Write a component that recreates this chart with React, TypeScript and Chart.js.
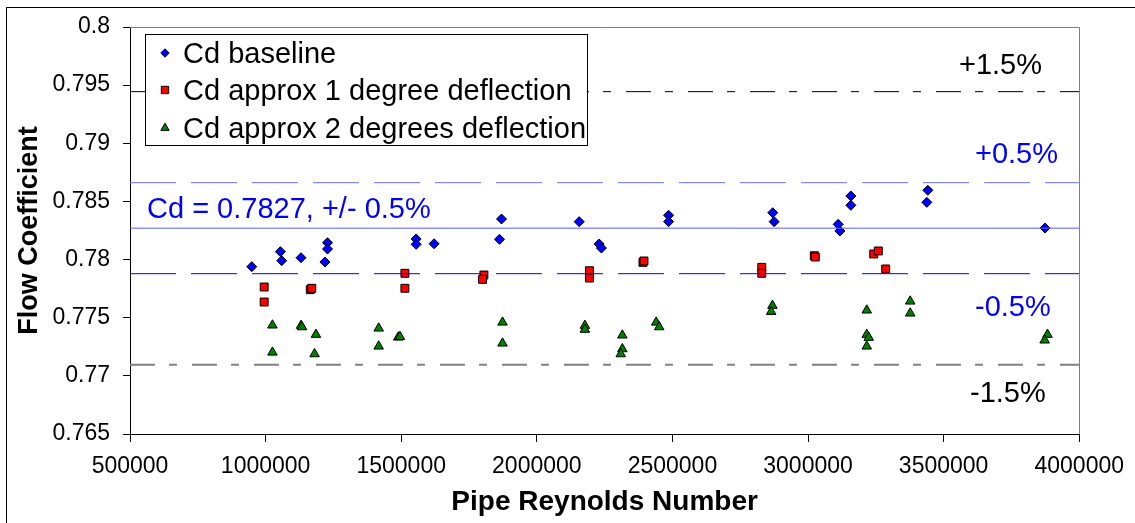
import React, { useEffect, useRef } from 'react';
import { Chart, registerables } from 'chart.js';

Chart.register(...registerables);

const FONT = '"Liberation Sans", Arial, sans-serif';

const xTicks = [500000, 1000000, 1500000, 2000000, 2500000, 3000000, 3500000, 4000000];
const xTickLabels = ['500000', '1000000', '1500000', '2000000', '2500000', '3000000', '3500000', '4000000'];
const yTicks = [0.765, 0.77, 0.775, 0.78, 0.785, 0.79, 0.795, 0.8];
const yTickLabels = ['0.765', '0.77', '0.775', '0.78', '0.785', '0.79', '0.795', '0.8'];

const seriesNames = ['Cd baseline', 'Cd approx 1 degree deflection', 'Cd approx 2 degrees deflection'];

const baselineRe = [949000, 1054600, 1059300, 1130600, 1228300, 1228300, 1218700, 1555100, 1555100, 1621200,
  1869900, 1862500, 2156300, 2229800, 2238200, 2485800, 2485800, 2869900, 2875100, 3111200,
  3117500, 3157900, 3157900, 3441800, 3438100, 3874000];
const baselineCd = [0.77939, 0.78068, 0.7799, 0.78016, 0.78145, 0.78091, 0.77979, 0.78177, 0.78131, 0.78136,
  0.78349, 0.78174, 0.78326, 0.78134, 0.78099, 0.78381, 0.78326, 0.78403, 0.78326, 0.78303,
  0.78246, 0.78547, 0.78467, 0.78596, 0.78492, 0.78271];

const deg1Re = [994700, 994700, 1164700, 1170200, 1513600, 1513600, 1804900, 1800100, 2194200, 2194200,
  2391400, 2395100, 2829500, 2829500, 3023100, 3026700, 3242300, 3259200, 3286400];
const deg1Cd = [0.77764, 0.77635, 0.77741, 0.77753, 0.77882, 0.77753, 0.77867, 0.7783, 0.77904, 0.77841,
  0.77976, 0.77988, 0.77933, 0.77882, 0.78033, 0.78022, 0.78048, 0.78074, 0.77919];

const deg2Re = [1025200, 1025200, 1130600, 1134300, 1185700, 1180500, 1417000, 1417000, 1489000, 1495300,
  1873600, 1873600, 2177300, 2177300, 2315400, 2315400, 2309500, 2440200, 2451300, 2868800,
  2864100, 3216600, 3216600, 3224000, 3216600, 3376700, 3376700, 3882900, 3872500];
const deg2Cd = [0.77435, 0.77202, 0.77432, 0.7742, 0.77355, 0.77188, 0.77409, 0.77254, 0.77331, 0.77337,
  0.7746, 0.7728, 0.77432, 0.77398, 0.77349, 0.77231, 0.77188, 0.7746, 0.7742, 0.77604,
  0.77552, 0.77564, 0.77355, 0.77329, 0.77254, 0.77641, 0.77538, 0.77355, 0.77306];

const cdMean = 0.7827;
const bandPercents = [1.5, 0.5, -0.5, -1.5];
const bandLabels = ['+1.5%', '+0.5%', '-0.5%', '-1.5%'];
const meanLabel = 'Cd = 0.7827, +/- 0.5%';

function drawMarker(ctx: CanvasRenderingContext2D, style: string, x: number, y: number, r: number, fill: string) {
  ctx.beginPath();
  if (style === 'rectRot') {
    ctx.moveTo(x - r, y);
    ctx.lineTo(x, y - r);
    ctx.lineTo(x + r, y);
    ctx.lineTo(x, y + r);
  } else if (style === 'rect') {
    const s = Math.SQRT1_2 * r;
    ctx.rect(x - s, y - s, 2 * s, 2 * s);
  } else {
    const w = r * Math.sin(Math.PI * 2 / 3);
    ctx.moveTo(x, y - r);
    ctx.lineTo(x + w, y + r / 2);
    ctx.lineTo(x - w, y + r / 2);
  }
  ctx.closePath();
  ctx.fillStyle = fill;
  ctx.fill();
  ctx.strokeStyle = '#000';
  ctx.lineWidth = 1;
  ctx.stroke();
}

const framePlugin = {
  id: 'frame',
  beforeDraw(chart: any) {
    const ctx = chart.ctx;
    ctx.save();
    ctx.fillStyle = '#fff';
    ctx.fillRect(0, 0, chart.width, chart.height);
    ctx.strokeStyle = '#000';
    ctx.lineWidth = 1;
    ctx.strokeRect(6.5, 7.5, chart.width + 20, chart.height + 20);
    ctx.restore();
  },
  beforeDatasetsDraw(chart: any) {
    const { ctx, chartArea: a } = chart;
    ctx.save();
    ctx.strokeStyle = '#808080';
    ctx.lineWidth = 1;
    ctx.beginPath();
    ctx.moveTo(a.left, Math.round(a.top) + 0.5);
    ctx.lineTo(Math.round(a.right) + 0.5, Math.round(a.top) + 0.5);
    ctx.lineTo(Math.round(a.right) + 0.5, a.bottom);
    ctx.stroke();
    ctx.restore();
  },
  afterDatasetsDraw(chart: any) {
    const ctx = chart.ctx;
    ctx.save();
    ctx.font = `29px ${FONT}`;
    ctx.textBaseline = 'alphabetic';
    ctx.textAlign = 'left';
    ctx.fillStyle = '#000';
    ctx.fillText(bandLabels[0], 959, 74);
    ctx.fillStyle = '#0000FF';
    ctx.fillText(bandLabels[1], 975, 163);
    ctx.fillText(bandLabels[2], 975, 316);
    ctx.fillStyle = '#000';
    ctx.fillText(bandLabels[3], 970, 402);
    ctx.fillStyle = '#0000FF';
    ctx.fillText(meanLabel, 147, 218);

    // legend
    ctx.fillStyle = '#fff';
    ctx.fillRect(145.5, 34.5, 442, 111);
    ctx.strokeStyle = '#000';
    ctx.lineWidth = 1;
    ctx.strokeRect(145.5, 34.5, 442, 111);
    const rows = [53, 90, 128];
    const styles = ['rectRot', 'rect', 'triangle'];
    const radii = [4.2, 5.2, 4.8];
    const fills = ['#0000FF', '#FF0000', '#008000'];
    rows.forEach((ry, i) => {
      drawMarker(ctx, styles[i], 165, ry, radii[i], fills[i]);
      ctx.fillStyle = '#000';
      ctx.font = `29px ${FONT}`;
      ctx.fillText(seriesNames[i], 183, ry + 10);
    });
    ctx.restore();
  },
};

export default function App() {
  const ref = useRef<HTMLCanvasElement | null>(null);

  useEffect(() => {
    if (!ref.current) return;
    const lineColors = ['#000000', '#6F6FFF', '#0000FF', '#808080'];
    const lineDashes = [[25, 14, 8, 15], [46, 15], [46, 15], [25, 14, 8, 15]];
    const lineWidths = [1, 1, 1, 2];
    const bandSets = bandPercents.map((p, i) => {
      const level = cdMean * (1 + p / 100);
      return {
        label: bandLabels[i],
        data: [{ x: xTicks[0], y: level }, { x: xTicks[xTicks.length - 1], y: level }],
        showLine: true,
        borderColor: lineColors[i],
        borderWidth: lineWidths[i],
        borderDash: lineDashes[i],
        pointRadius: 0,
        order: 0,
      };
    });
    const meanSet = {
      label: meanLabel,
      data: [{ x: xTicks[0], y: cdMean }, { x: xTicks[xTicks.length - 1], y: cdMean }],
      showLine: true,
      borderColor: '#5A5AFF',
      borderWidth: 1,
      pointRadius: 0,
      order: 0,
    };
    const mk = (re: number[], cd: number[]) => re.map((x, i) => ({ x, y: cd[i] }));
    const chart = new Chart(ref.current, {
      type: 'scatter',
      data: {
        datasets: [
          ...bandSets,
          meanSet,
          {
            label: seriesNames[0],
            data: mk(baselineRe, baselineCd),
            pointStyle: 'rectRot',
            pointRadius: 5,
            backgroundColor: '#0000FF',
            borderColor: '#000',
            borderWidth: 1,
            order: 1,
          },
          {
            label: seriesNames[1],
            data: mk(deg1Re, deg1Cd),
            pointStyle: 'rect',
            pointRadius: 5.6,
            backgroundColor: '#FF0000',
            borderColor: '#000',
            borderWidth: 1,
            order: 1,
          },
          {
            label: seriesNames[2],
            data: mk(deg2Re, deg2Cd),
            pointStyle: 'triangle',
            pointRadius: 5.5,
            backgroundColor: '#008000',
            borderColor: '#000',
            borderWidth: 1,
            order: 1,
          },
        ] as any,
      },
      options: {
        responsive: false,
        animation: false,
        layout: { padding: { left: 0, top: 27, right: 52, bottom: 0 } },
        plugins: { legend: { display: false }, tooltip: { enabled: false } },
        scales: {
          x: {
            type: 'linear',
            min: xTicks[0],
            max: xTicks[xTicks.length - 1],
            afterBuildTicks: (s: any) => { s.ticks = xTicks.map((v) => ({ value: v })); },
            afterFit: (s: any) => { s.height = 89; },
            ticks: {
              callback: (_v: any, i: number) => xTickLabels[i],
              font: { family: FONT, size: 23 },
              color: '#000',
              padding: 11,
              maxRotation: 0,
              autoSkip: false,
            },
            grid: { drawOnChartArea: false, drawTicks: true, tickLength: 8, color: '#000' },
            border: { color: '#000', width: 1 },
            title: {
              display: true,
              text: 'Pipe Reynolds Number',
              font: { family: FONT, size: 28, weight: 'bold' },
              color: '#000',
              padding: { top: 0, bottom: 4 },
            },
          },
          y: {
            type: 'linear',
            min: yTicks[0],
            max: yTicks[yTicks.length - 1],
            afterBuildTicks: (s: any) => { s.ticks = yTicks.map((v) => ({ value: v })); },
            afterFit: (s: any) => { s.width = 130; },
            ticks: {
              callback: (_v: any, i: number) => yTickLabels[i],
              font: { family: FONT, size: 23 },
              color: '#000',
              padding: 13,
            },
            grid: { drawOnChartArea: false, drawTicks: true, tickLength: 7, color: '#000' },
            border: { color: '#000', width: 1 },
            title: {
              display: true,
              text: 'Flow Coefficient',
              font: { family: FONT, size: 27, weight: 'bold' },
              color: '#000',
              padding: { top: 13, bottom: 0 },
            },
          },
        },
      } as any,
      plugins: [framePlugin],
    });
    return () => chart.destroy();
  }, []);

  return (
    <div style={{ position: 'absolute', left: 0, top: 0, width: 1135, height: 523, background: '#fff' }}>
      <canvas ref={ref} width={1135} height={523} style={{ display: 'block' }} />
    </div>
  );
}
